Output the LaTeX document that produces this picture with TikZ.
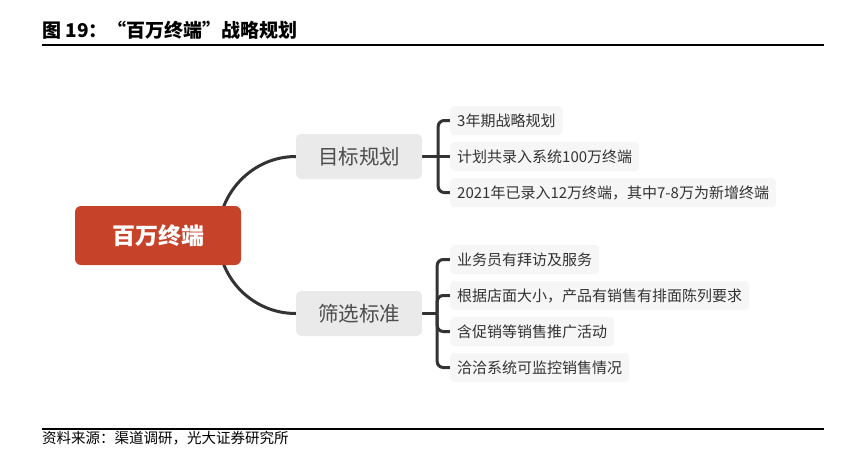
\documentclass[tikz,border=0pt]{standalone}
\usepackage{fontspec}
\setmainfont{Noto Sans CJK SC}
\usetikzlibrary{backgrounds,calc}
\definecolor{redbox}{HTML}{C6432A}
\definecolor{graybox}{HTML}{EAEAEA}
\definecolor{leafbg}{HTML}{F6F6F6}
\definecolor{linec}{HTML}{333333}
\definecolor{graytext}{HTML}{4D4D4D}
\definecolor{leaftext}{HTML}{333333}
\tikzset{
  rootbox/.style={fill=redbox, rounded corners=6pt, minimum width=166pt, minimum height=59pt,
    text=white, font=\fontsize{23}{23}\selectfont\bfseries, inner sep=0pt},
  mainbox/.style={fill=graybox, rounded corners=5pt, minimum width=126pt, minimum height=45pt,
    text=graytext, font=\fontsize{20.5}{20.5}\selectfont, inner sep=0pt},
  leafbox/.style={fill=leafbg, rounded corners=4pt, minimum height=29pt, inner xsep=7pt,
    inner ysep=0pt, anchor=west, text=leaftext, font=\fontsize{15}{15}\selectfont},
  conn/.style={draw=linec, line width=3pt, rounded corners=6pt},
  rule/.style={draw=black, line width=1.6pt},
  captext/.style={anchor=west, inner sep=0pt}
}
\begin{document}
\begin{tikzpicture}[x=1pt,y=-1pt]
\path[use as bounding box] (0,0) rectangle (851,458);
% title and rules
\node[captext, font=\fontsize{19}{19}\selectfont\bfseries] (title) at (42,30) {图 19：“百万终端”战略规划};
\coordinate (r1a) at (42,45);
\coordinate (r1b) at (824,45);
\draw[rule] (r1a) -- (r1b);
\coordinate (r2a) at (42,429);
\coordinate (r2b) at (824,429);
\draw[rule, line width=1.3pt] (r2a) -- (r2b);
\node[captext, font=\fontsize{14.5}{14.5}\selectfont] (src) at (42,438) {资料来源：渠道调研，光大证券研究所};

% main nodes
\node[rootbox] (root) at (158,235.5) {百万终端};
\node[mainbox] (goal) at (359,156.5) {目标规划};
\node[mainbox] (screen) at (359,313.5) {筛选标准};

% leaves
\node[leafbox] (g1) at (450,120.5) {3年期战略规划};
\node[leafbox] (g2) at (450,156.5) {计划共录入系统100万终端};
\node[leafbox] (g3) at (450,192.5) {2021年已录入12万终端，其中7-8万为新增终端};
\node[leafbox] (s1) at (450,259.5) {业务员有拜访及服务};
\node[leafbox] (s2) at (450,295.5) {根据店面大小，产品有销售有排面陈列要求};
\node[leafbox] (s3) at (450,331.5) {含促销等销售推广活动};
\node[leafbox] (s4) at (450,367.5) {洽洽系统可监控销售情况};

\begin{scope}[on background layer]
\coordinate (rs) at ($(root.east)+(-23,0)$);
\draw[conn] (rs) .. controls +(0,-43) and +(-43,0) .. (goal.west);
\draw[conn] (rs) .. controls +(0,43) and +(-43,0) .. (screen.west);
\coordinate (gj) at ($(goal.east)+(16,0)$);
\draw[conn] (goal.east) -- (g2.west);
\draw[conn] (gj) |- (g1.west);
\draw[conn] (gj) |- (g3.west);
\coordinate (sj) at ($(screen.east)+(15,0)$);
\draw[conn] (screen.east) -- (sj);
\draw[conn] (sj) |- (s1.west);
\draw[conn] (sj) |- (s2.west);
\draw[conn] (sj) |- (s3.west);
\draw[conn] (sj) |- (s4.west);
\end{scope}
\end{tikzpicture}
\end{document}
